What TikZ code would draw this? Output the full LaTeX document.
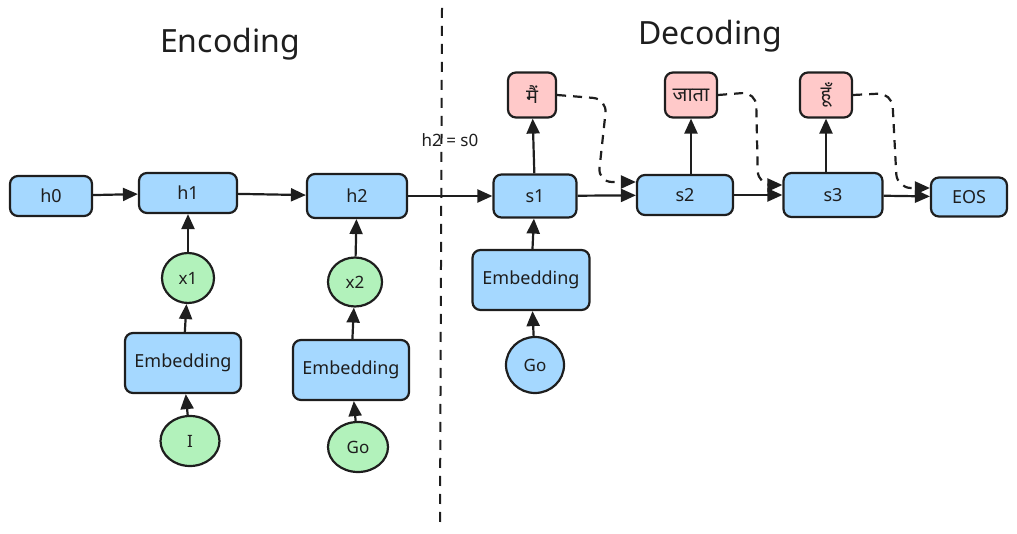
\documentclass[tikz,border=0pt]{standalone}
\usepackage{fontspec}
\setmainfont{Noto Sans}
\newfontfamily\hindi[Script=Devanagari]{Noto Sans}
\usetikzlibrary{arrows.meta,shapes.geometric}
\definecolor{boxblue}{HTML}{A5D8FF}
\definecolor{boxgreen}{HTML}{B2F2BB}
\definecolor{boxpink}{HTML}{FFC9C9}
\definecolor{ink}{HTML}{1E1E1E}

\begin{document}
\begin{tikzpicture}[x=1pt,y=-1pt,
  cell/.style={draw=ink,line width=2.2pt,rounded corners=8pt,fill=boxblue,inner sep=0pt,text=ink,font=\fontsize{18}{21}\selectfont},
  token/.style={ellipse,draw=ink,line width=2.2pt,fill=boxgreen,inner sep=0pt,text=ink,font=\fontsize{17}{20}\selectfont},
  word/.style={cell,fill=boxpink,minimum height=45pt,font=\hindi\fontsize{20}{22}\selectfont},
  flow/.style={draw=ink,line width=2.2pt,-{Triangle[length=15pt,width=13pt]}},
  feed/.style={flow,dash pattern=on 9pt off 7pt,rounded corners=14pt}]

\useasboundingbox (0,0) rectangle (1017,534);

% titles and split
\node[text=ink,font=\fontsize{32}{36}\selectfont] (enc) at (230,44) {Encoding};
\node[text=ink,font=\fontsize{32}{36}\selectfont] (dec) at (710,36) {Decoding};
\coordinate (divtop) at (442,8);
\coordinate (divbot) at (440,522);
\draw[ink,line width=2pt,dash pattern=on 10pt off 8pt] (divtop) -- (divbot);
\node[text=ink,font=\fontsize{17}{20}\selectfont] (link) at (450,140) {h2 = s0};

% encoder
\node[cell,minimum width=82pt,minimum height=40pt] (h0) at (51,196) {h0};
\node[cell,minimum width=98pt,minimum height=40pt] (h1) at (188,193) {h1};
\node[cell,minimum width=100pt,minimum height=44pt] (h2) at (357,196) {h2};
\node[token,minimum width=52pt,minimum height=50pt] (x1) at (188,278) {x1};
\node[token,minimum width=54pt,minimum height=49pt] (x2) at (355,282) {x2};
\node[cell,minimum width=116pt,minimum height=60pt] (emb1) at (183,363) {Embedding};
\node[cell,minimum width=116pt,minimum height=60pt] (emb2) at (351,370) {Embedding};
\node[token,minimum width=59pt,minimum height=50pt] (in1) at (190,441) {I};
\node[token,minimum width=60pt,minimum height=50pt] (in2) at (358,447) {Go};

% decoder
\node[cell,minimum width=83pt,minimum height=43pt] (s1) at (535,196) {s1};
\node[cell,minimum width=96pt,minimum height=40pt] (s2) at (685,195) {s2};
\node[cell,minimum width=99pt,minimum height=44pt] (s3) at (833,195) {s3};
\node[cell,minimum width=76pt,minimum height=39pt] (eos) at (969,197) {EOS};
\node[cell,minimum width=117pt,minimum height=60pt] (emb3) at (531,280) {Embedding};
\node[token,fill=boxblue,minimum width=58pt,minimum height=56pt] (in3) at (535,365) {Go};
\node[word,minimum width=48pt] (mai) at (532,95) {मैं};
\node[word,minimum width=52pt] (jata) at (691,95) {जाता};
\node[word,minimum width=52pt] (hoon) at (826,95) {हूँ};

\draw[flow] (h0) -- (h1);
\draw[flow] (h1) -- (h2);
\draw[flow] (h2) -- (s1);
\draw[flow] (x1) -- (h1);
\draw[flow] (emb1) -- (x1);
\draw[flow] (in1) -- (emb1);
\draw[flow] (x2) -- (h2);
\draw[flow] (emb2) -- (x2);
\draw[flow] (in2) -- (emb2);
\draw[flow] (emb3) -- (s1);
\draw[flow] (in3) -- (emb3);
\draw[flow] (s1) -- (s2);
\draw[flow] (s2) -- (s3);
\draw[flow] (s3) -- (eos);
\draw[flow] (s1) -- (mai);
\draw[flow] (s2.north -| jata) -- (jata);
\draw[flow] (s3.north -| hoon) -- (hoon);

% fed back outputs
\draw[feed] (mai.east) -- (607,99) -- (598,182) -- ([yshift=13pt]s2.west);
\draw[feed] (jata.east) -- (756,92) -- (758,185) -- ([yshift=10pt]s3.west);
\draw[feed] (hoon.east) -- (892,93) -- (897,188) -- ([yshift=9pt]eos.west);
\end{tikzpicture}
\end{document}
